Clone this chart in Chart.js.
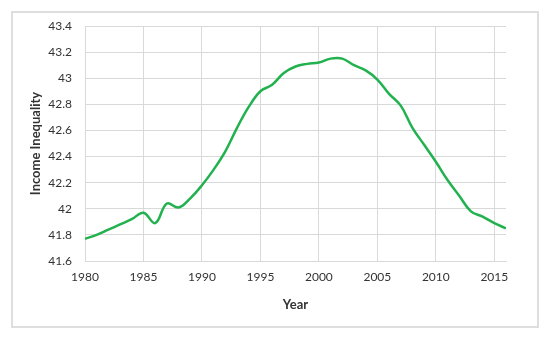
<!DOCTYPE html>
<html>
<head>
<meta charset="utf-8">
<script src="https://cdn.jsdelivr.net/npm/chart.js@4/dist/chart.umd.min.js"></script>
<style>
  body { margin: 0; background: #fff; }
  #wrap { position: relative; width: 550px; height: 340px; }
  #frame { position: absolute; left: 11px; top: 11px; width: 528px; height: 317px;
           border: 2px solid #dedede; box-sizing: border-box; }
  canvas { position: absolute; left: 0; top: 0; }
</style>
</head>
<body>
<div id="wrap">
  <div id="frame"></div>
  <canvas id="myChart" width="550" height="340"></canvas>
</div>
<script>
// values
var years = [1980, 1981, 1982, 1983, 1984, 1985, 1986, 1987, 1988, 1989,
             1990, 1991, 1992, 1993, 1994, 1995, 1996, 1997, 1998, 1999,
             2000, 2001, 2002, 2003, 2004, 2005, 2006, 2007, 2008, 2009,
             2010, 2011, 2012, 2013, 2014, 2015, 2016]
var inequality = [41.77, 41.80, 41.84, 41.88, 41.92, 41.97, 41.89, 42.04, 42.01, 42.08,
                  42.18, 42.30, 42.44, 42.62, 42.78, 42.90, 42.95, 43.04, 43.09, 43.11,
                  43.12, 43.15, 43.15, 43.10, 43.06, 42.99, 42.88, 42.79, 42.62, 42.49,
                  42.36, 42.22, 42.10, 41.98, 41.94, 41.89, 41.85]
var xTicks = [1980, 1985, 1990, 1995, 2000, 2005, 2010, 2015]
var yTicks = [41.6, 41.8, 42, 42.2, 42.4, 42.6, 42.8, 43, 43.2, 43.4]

var gridColor = '#d9d9d9'
var textColor = '#333333'
var tickFont = { family: 'Lato', size: 12 }
var titleFont = { family: 'Lato', size: 13, weight: 'bold' }

var points = years.map(function (y, i) { return { x: y, y: inequality[i] } })

var ctx = document.getElementById('myChart').getContext('2d')
var myChart = new Chart(ctx, {
    type: 'line',
    data: {
        datasets: [{
            data: points,
            borderColor: '#22b14f',
            borderWidth: 2.5,
            pointRadius: 0,
            tension: 0.4,
            fill: false
        }]
    },
    options: {
        responsive: false,
        animation: false,
        layout: { padding: { top: 26, right: 44, left: 0, bottom: 0 } },
        plugins: {
            legend: { display: false },
            tooltip: { enabled: false }
        },
        scales: {
            x: {
                type: 'linear',
                min: 1980,
                max: 2016,
                afterBuildTicks: function (s) { s.ticks = xTicks.map(function (v) { return { value: v } }) },
                afterFit: function (s) { s.height = 79 },
                ticks: { font: tickFont, color: textColor, padding: 9, autoSkip: false, maxRotation: 0,
                         callback: function (v) { return String(v) } },
                grid: { color: gridColor, drawTicks: false },
                border: { color: gridColor },
                title: { display: true, text: 'Year', font: titleFont, color: textColor,
                         padding: { top: 0, bottom: 27 } }
            },
            y: {
                min: 41.6,
                max: 43.4,
                afterBuildTicks: function (s) { s.ticks = yTicks.map(function (v) { return { value: v } }) },
                afterFit: function (s) { s.width = 85 },
                ticks: { font: tickFont, color: textColor, padding: 13,
                         callback: function (v) { return String(Math.round(v * 10) / 10) } },
                grid: { color: gridColor, drawTicks: false },
                border: { color: gridColor },
                title: { display: true, text: 'Income Inequality', font: titleFont, color: textColor,
                         padding: { top: 28, bottom: 0 } }
            }
        }
    }
})
</script>
</body>
</html>
